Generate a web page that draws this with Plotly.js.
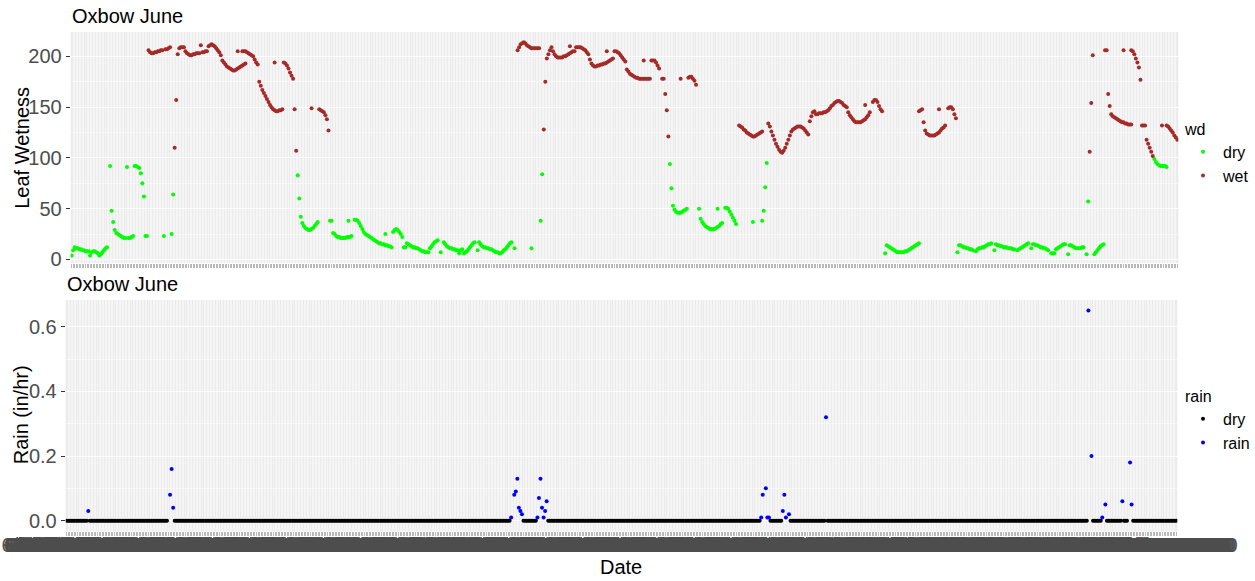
<!DOCTYPE html>
<html><head><meta charset="utf-8">
<script src="https://cdn.plot.ly/plotly-3.0.1.min.js"></script>
<style>html,body{margin:0;padding:0;background:#fff;}#chart{width:1255px;height:581px;}</style>
</head><body><div id="chart"></div>
<script>
// ---------- categories: hourly time stamps of June, sorted as text (as in the original factor) ----------
const YEAR = 2019;
const JUNE_DAYS = 30;
const HOURS_PER_DAY = 24;
const dateLabels = [];
for (let d = 1; d <= JUNE_DAYS; d++) {
  for (let h = 0; h < HOURS_PER_DAY; h++) dateLabels.push('6/' + d + '/' + YEAR + ' ' + h + ':00');
}
dateLabels.sort();

// ---------- Leaf wetness (top panel): runs of [first slot (1-based), values...] ----------
const leafDryRuns = [
  [1, [4,9,12,11,11,10,10,9,9,8,8,8,4,7,8,8,7,6,4,5,7,9,11,12]],
  [26, [92,48,37,29,26,25,24,23,22,21,21,91,21,21,22,23,92,92,91,90,85,75,62,23,23]],
  [61, [23]],
  [66, [25,64]],
  [148, [83,60,42,36,33,31,30,29,29,30,31,33,35,37]],
  [169, [38,38,26,25,23,22,22,21,21,21,21,22,22,22,23]],
  [181, [38]],
  [185, [39,39,38,36,33,30,27,25,24,23,22,21,20,19,18,17,16,16,15,15,14,14,13,13,12]],
  [205, [25]],
  [210, [27,29,30,29,27,25,22,12,12,16,15,14,13,12,12,11,11,10,9,8,8,7,7,7,11,13,15,17,18,19]],
  [241, [7]],
  [243, [17,15,13,12,11,11,10,10,9,9,6,9,10,6,7,8,10,12,14,16,17]],
  [265, [9,17,15,13,12,12,11,11,10,10,9,8,7,7,6,6,7,9,10,12,14,16,17]],
  [289, [11]],
  [300, [11]],
  [306, [38,84]],
  [390, [94,70,53,49,47,46,46,46,47,48,49,50]],
  [409, [50,40,37,35,33,32,31,30,30,30,30,31,32,33,35,36]],
  [421, [50]],
  [426, [51,51,50,47,44,41,38,35]],
  [444, [37]],
  [450, [38,48,71,95]],
  [530, [6,14,13,12,11,10,9,8,7,7,7,7,7,8,8,9,10,11,12,13,14,15,16]],
  [577, [7,14,14,13,12,12,11,11,10,10,9]],
  [589, [8,10,11,11,12,12,13,14,15,15,16]],
  [601, [9,15,14,14,13,13,12,12,12,11,11,11,10,10]],
  [616, [9,10,11,12,13,14,15,16]],
  [625, [11,15,15,14,14,13,12,12,11,11,10,9]],
  [638, [6,6,6,10,11,12,13,14,15,15]],
  [649, [5,14,14,13,12,11,11,11,11,12,12]],
  [661, [5,57]],
  [666, [5,7,9,11,13,14,15]],
  [705, [99,96,94,93,92,92,92,92,91]]
];
const leafWetRuns = [
  [51, [206,204,203,203,204,204,205,205,206,206]],
  [62, [207,207,208,209]],
  [68, [110,157,202,208,209,209,209,205,203,202,201,201,202,202,203,203,203,211,204,204,205,205,210,211,212,211,210,208,206,204,201,196,194,192,190,189,188,187,186,186,187,188,189,190,191,192,193]],
  [109, [205]],
  [112, [205,205,205,204,203,202,201]],
  [119, [200,197,194,192,175,171,167,164,161,158,155,152,150,148,147,146,146,147,147,148]],
  [133, [194]],
  [139, [194,193,191,188,184,181,178,148,107]],
  [157, [149]],
  [162, [148,147,146,145,142,138,127]],
  [291, [206,209,212,213,214,213,211,210,209,208,208,208,208,208,208]],
  [308, [128,175,198,202,206,209,205,202,200,199,199,199,199,200,200,201,202,203,204,205,205,209,209,209,209,208,207,206,204,202,197,193,191,190,190,191,191,192,192,193,193,194,195,196,197,198,205,205,204,203,201,199,197,195,187,185,183,182,181,180,179,179,178,178,178,178,178,178,178,178,196,196,196,194,191,188]],
  [325, [210]],
  [349, [205]],
  [373, [196]],
  [385, [178,178,163,147,121]],
  [397, [178]],
  [402, [179,180,180,178,176,172]],
  [435, [132,131,130,128,127,125,124,123,122,121,121,122,123,124,125,126]],
  [454, [134,131,126,122,118,114,111,108,106,105,107,110,114,118,122,126,128,129,130,131,131,131,130,129,127,125,123,136,141,145,146,143,143,144,144,144,145,145,146,147,149,151,152,154,155,156,156,155,154,152,151,150,145,142,140,138,136,135,135,135,135,136,137,138,140,142,145]],
  [517, [152]],
  [522, [155,157,157,155,151,148,146]],
  [552, [146,147,148,135,127,124,123,122,122,122,122,123,124,125,127,129,130,132]],
  [565, [148]],
  [571, [149,150,150,148,143,139]],
  [663, [106,154,201]],
  [673, [206,206,163,151,143,141,140,139,138,137,136,135,135,134,134,133,133,133]],
  [685, [206]],
  [690, [206,205,202,198,194,189,177]],
  [697, [132,132,132,118,114,110,106,102]],
  [710, [132]],
  [713, [132,131,129,127,125,122,120,118]]
];

// ---------- Rain (bottom panel) ----------
// hours without rain: [first slot, last slot], rain = 0
const rainDryRuns = [[1,14],[16,66],[71,288],[297,305],[313,450],[457,464],[470,492],[494,662],[666,671],[675,684],[686,688],[692,720]];
const rainDryValue = 0;
// hours with rain
const rainSlots  = [15, 68,69,70, 289,291,292,293,294,295,296, 306,307,308,309,310,311,312, 451,452,454,455,456, 465,466,467,469, 493, 663,665, 672,674, 685, 690,691];
const rainValues = [0.03, 0.08,0.16,0.04, 0.01,0.08,0.09,0.13,0.04,0.03,0.02, 0.01,0.07,0.13,0.04,0.01,0.03,0.06, 0.01,0.08,0.10,0.01,0.01, 0.03,0.08,0.01,0.02, 0.32, 0.65,0.20, 0.01,0.05, 0.06, 0.18,0.05];

// ---------- build traces ----------
function fromRuns(runs) {
  const x = [], y = [];
  runs.forEach(function (r) {
    r[1].forEach(function (v, k) { x.push(dateLabels[r[0] - 1 + k]); y.push(v); });
  });
  return {x: x, y: y};
}
const dryLeaf = fromRuns(leafDryRuns);
const wetLeaf = fromRuns(leafWetRuns);
const rainDry = {x: [], y: []};
rainDryRuns.forEach(function (r) {
  for (let s = r[0]; s <= r[1]; s++) { rainDry.x.push(dateLabels[s - 1]); rainDry.y.push(rainDryValue); }
});
const rainWet = {x: rainSlots.map(function (s) { return dateLabels[s - 1]; }), y: rainValues};

const MS = 4;
const traces = [
  {type:'scatter', mode:'markers', name:'dry', x:dryLeaf.x, y:dryLeaf.y, xaxis:'x', yaxis:'y', legend:'legend',
   marker:{color:'#00FF00', size:MS}, hoverinfo:'skip'},
  {type:'scatter', mode:'markers', name:'wet', x:wetLeaf.x, y:wetLeaf.y, xaxis:'x', yaxis:'y', legend:'legend',
   marker:{color:'#A52A2A', size:MS}, hoverinfo:'skip'},
  {type:'scatter', mode:'markers', name:'dry', x:rainDry.x, y:rainDry.y, xaxis:'x2', yaxis:'y2', legend:'legend2',
   marker:{color:'#000000', size:MS}, hoverinfo:'skip'},
  {type:'scatter', mode:'markers', name:'rain', x:rainWet.x, y:rainWet.y, xaxis:'x2', yaxis:'y2', legend:'legend2',
   marker:{color:'#0000FF', size:MS}, hoverinfo:'skip'}
];

const W = 1255, H = 581;
const FONT = 'Liberation Sans, Arial, Helvetica, sans-serif';
const TICKGREY = '#4D4D4D';
function xAxis(left, right, anchor, labels) {
  return {
    domain:[left / W, right / W], anchor:anchor, type:'category', categoryorder:'array', categoryarray:dateLabels,
    range:[-0.6, dateLabels.length - 0.4], tickmode:'linear', tick0:0, dtick:1,
    ticks:'outside', ticklen:4, tickwidth:0.6, tickcolor:'#8a8a8a',
    showticklabels:labels, tickangle:0, ticklabelstandoff:-8, tickfont:{family:FONT, size:20, color:TICKGREY},
    showgrid:true, gridcolor:'#FFFFFF', gridwidth:0.5, zeroline:false, showline:false, automargin:false
  };
}
const layout = {
  width:W, height:H, margin:{l:0, r:0, t:0, b:0},
  paper_bgcolor:'#FFFFFF', plot_bgcolor:'#EBEBEB',
  font:{family:FONT, size:20, color:'#000'},
  showlegend:true,
  xaxis: xAxis(71, 1183, 'y', false),
  yaxis: {
    domain:[1 - 263 / H, 1 - 32 / H], anchor:'x', range:[-3.5, 224],
    tickmode:'array', tickvals:[0,50,100,150,200],
    ticks:'outside', ticklen:4, tickwidth:1, tickcolor:'#333333',
    tickfont:{family:FONT, size:20, color:TICKGREY},
    showgrid:true, gridcolor:'#FFFFFF', gridwidth:1, zeroline:false, showline:false, automargin:false,
    minor:{tickmode:'array', tickvals:[25,75,125,175,225], showgrid:true, gridcolor:'#FFFFFF', gridwidth:0.5, ticks:''}
  },
  xaxis2: xAxis(66, 1182, 'y2', true),
  yaxis2: {
    domain:[1 - 531.2 / H, 1 - 300 / H], anchor:'x2', range:[-0.0325, 0.6825],
    tickmode:'array', tickvals:[0,0.2,0.4,0.6], tickformat:'.1f',
    ticks:'outside', ticklen:4, tickwidth:1, tickcolor:'#333333',
    tickfont:{family:FONT, size:20, color:TICKGREY},
    showgrid:true, gridcolor:'#FFFFFF', gridwidth:1, zeroline:false, showline:false, automargin:false,
    minor:{tickmode:'array', tickvals:[0.1,0.3,0.5], showgrid:true, gridcolor:'#FFFFFF', gridwidth:0.5, ticks:''}
  },
  legend: {
    title:{text:'wd', font:{family:FONT, size:16, color:'#000'}},
    font:{family:FONT, size:16, color:'#000'},
    x:1188 / W, xanchor:'left', y:1 - 114 / H, yanchor:'top', bgcolor:'rgba(0,0,0,0)', tracegroupgap:0
  },
  legend2: {
    title:{text:'rain', font:{family:FONT, size:16, color:'#000'}},
    font:{family:FONT, size:16, color:'#000'},
    x:1188 / W, xanchor:'left', y:1 - 381 / H, yanchor:'top', bgcolor:'rgba(0,0,0,0)', tracegroupgap:0
  },
  annotations: [
    {text:'Oxbow June', xref:'paper', yref:'paper', x:70 / W, y:1 - 16.3 / H, xanchor:'left', yanchor:'middle',
     showarrow:false, font:{family:FONT, size:20, color:'#000'}},
    {text:'Oxbow June', xref:'paper', yref:'paper', x:65 / W, y:1 - 284.2 / H, xanchor:'left', yanchor:'middle',
     showarrow:false, font:{family:FONT, size:20, color:'#000'}},
    {text:'Leaf Wetness', xref:'paper', yref:'paper', x:21.4 / W, y:1 - 147.5 / H, xanchor:'center', yanchor:'middle',
     textangle:-90, showarrow:false, font:{family:FONT, size:20, color:'#000'}},
    {text:'Rain (in/hr)', xref:'paper', yref:'paper', x:21.4 / W, y:1 - 415 / H, xanchor:'center', yanchor:'middle',
     textangle:-90, showarrow:false, font:{family:FONT, size:20, color:'#000'}},
    {text:'Date', xref:'paper', yref:'paper', x:623.5 / W, y:1 - 567 / H, xanchor:'center', yanchor:'middle',
     showarrow:false, font:{family:FONT, size:20, color:'#000'}}
  ]
};
Plotly.newPlot('chart', traces, layout, {displayModeBar:false, staticPlot:true});
</script>
</body></html>
